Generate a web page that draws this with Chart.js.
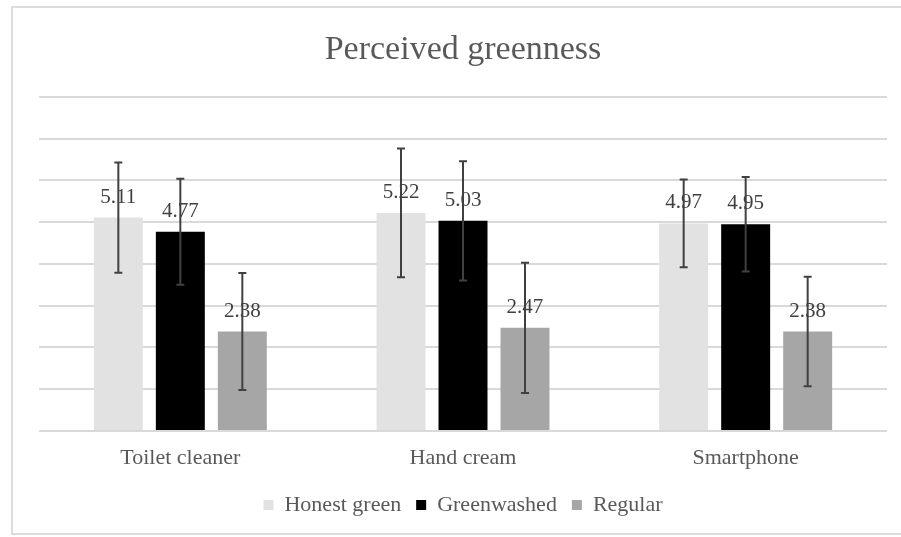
<!DOCTYPE html>
<html>
<head>
<meta charset="utf-8">
<script src="https://cdn.jsdelivr.net/npm/chart.js"></script>
<style>
  html, body { margin: 0; padding: 0; background: #fff; overflow: hidden; }
  #wrap { position: relative; width: 901px; height: 537px; }
  #frame { position: absolute; left: 11px; top: 6px; width: 920px; height: 525px; border: 2px solid #dcdcdc; }
  canvas { position: absolute; left: 0; top: 0; }
</style>
</head>
<body>
<div id="wrap">
  <div id="frame"></div>
  <canvas id="bars" width="901" height="537"></canvas>
</div>
<script>
// values
var categories = ["Toilet cleaner", "Hand cream", "Smartphone"];
var seriesNames = ["Honest green", "Greenwashed", "Regular"];
var honestGreen = [5.11, 5.22, 4.97];
var greenwashed = [4.77, 5.03, 4.95];
var regular = [2.38, 2.47, 2.38];
// error bar half-widths (estimated)
var honestGreenErr = [1.32, 1.54, 1.05];
var greenwashedErr = [1.27, 1.43, 1.13];
var regularErr = [1.40, 1.56, 1.31];

var serif = "'Liberation Serif', 'Times New Roman', serif";

// value labels then error bars on top, like the original
var errorBars = {
  id: "errorBars",
  afterDatasetsDraw: function (chart) {
    var ctx = chart.ctx;
    var y = chart.scales.y;
    ctx.save();
    chart.data.datasets.forEach(function (ds, i) {
      var meta = chart.getDatasetMeta(i);
      meta.data.forEach(function (bar, j) {
        ctx.fillStyle = "#404040";
        ctx.font = "21px " + serif;
        ctx.textAlign = "center";
        ctx.textBaseline = "alphabetic";
        ctx.fillText(ds.data[j].toFixed(2), bar.x, bar.y - 15);
      });
    });
    chart.data.datasets.forEach(function (ds, i) {
      var meta = chart.getDatasetMeta(i);
      meta.data.forEach(function (bar, j) {
        var top = y.getPixelForValue(ds.data[j] + ds.err[j]);
        var bot = y.getPixelForValue(ds.data[j] - ds.err[j]);
        ctx.strokeStyle = "#404040";
        ctx.lineWidth = 2;
        ctx.beginPath();
        ctx.moveTo(bar.x, top); ctx.lineTo(bar.x, bot);
        ctx.moveTo(bar.x - 4, top); ctx.lineTo(bar.x + 4, top);
        ctx.moveTo(bar.x - 4, bot); ctx.lineTo(bar.x + 4, bot);
        ctx.stroke();
      });
    });
    ctx.restore();
  }
};

var ctx = document.getElementById("bars").getContext("2d");
var chart = new Chart(ctx, {
  type: "bar",
  data: {
    labels: categories,
    datasets: [
      { label: seriesNames[0], data: honestGreen, err: honestGreenErr, backgroundColor: "#e2e2e2" },
      { label: seriesNames[1], data: greenwashed, err: greenwashedErr, backgroundColor: "#000000" },
      { label: seriesNames[2], data: regular, err: regularErr, backgroundColor: "#a6a6a6" }
    ]
  },
  options: {
    responsive: false,
    animation: false,
    categoryPercentage: 0.658,
    barPercentage: 0.79,
    layout: { padding: { left: 39, right: 14, top: 10, bottom: 11 } },
    plugins: {
      title: {
        display: true,
        text: "Perceived greenness",
        color: "#595959",
        font: { family: serif, size: 34, weight: "normal" },
        padding: { top: 20, bottom: 26 }
      },
      legend: {
        position: "bottom",
        labels: {
          color: "#595959",
          font: { family: serif, size: 22 },
          boxWidth: 10,
          boxHeight: 10,
          padding: 15
        }
      },
      tooltip: { enabled: false }
    },
    scales: {
      x: {
        grid: { display: false, drawTicks: false },
        border: { display: false },
        ticks: { color: "#595959", font: { family: serif, size: 22 }, padding: 14 },
        afterFit: function (scale) { scale.height = 48; }
      },
      y: {
        min: 0,
        max: 8,
        ticks: { display: false, stepSize: 1 },
        grid: { color: "#d9d9d9", lineWidth: 2, drawTicks: false },
        border: { display: false }
      }
    }
  },
  plugins: [errorBars]
});
</script>
</body>
</html>
